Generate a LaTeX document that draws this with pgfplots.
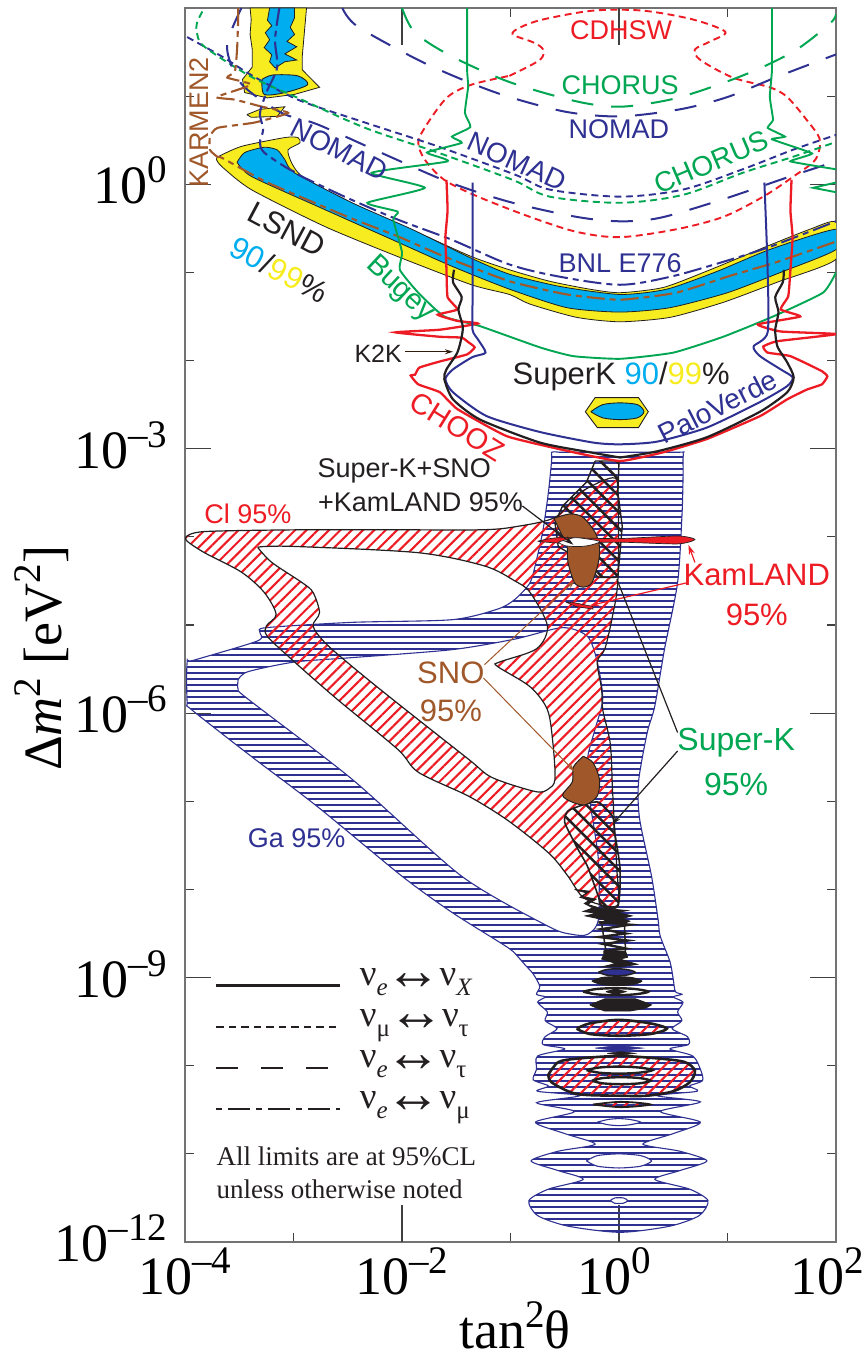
\documentclass[border=0pt]{standalone}
\usepackage{fontspec}
\usepackage{pgfplots}
\pgfplotsset{compat=1.18}
\usetikzlibrary{patterns.meta,arrows.meta}
\setmainfont{Liberation Serif}
\newfontfamily\hv{Liberation Sans}
\definecolor{cB}{HTML}{2E3192}
\definecolor{cR}{HTML}{ED1C24}
\definecolor{cG}{HTML}{00A651}
\definecolor{cC}{HTML}{00AEEF}
\definecolor{cY}{HTML}{F7EC1F}
\definecolor{cN}{HTML}{A0582A}
\definecolor{cK}{HTML}{231F20}
\newcommand{\fs}[1]{\fontsize{#1}{#1}\selectfont}
\newcommand{\up}[1]{\smash{\raisebox{21pt}{\fs{39}#1}}}
\newcommand{\tl}[1]{\fs{54}10\up{#1}}
\newcommand{\sbx}[1]{\smash{\raisebox{-10pt}{\fs{25}#1}}}
\newcommand{\lr}{\kern-2pt\smash{\raisebox{-4pt}{\fs{56}↔}}\kern-2pt}
\tikzset{
 ga/.style={pattern={Lines[angle=0,distance=6pt,line width=2.4pt]},pattern color=cB},
 ci/.style={pattern={Lines[angle=45,distance=8pt,line width=2.1pt]},pattern color=cR},
 sk/.style={pattern={Lines[angle=-45,distance=11.5pt,line width=2.5pt]},pattern color=cK},
 sd/.style={dash pattern=on 7pt off 4.5pt},
 ld/.style={dash pattern=on 22pt off 18pt},
 dd/.style={dash pattern=on 18pt off 5pt on 6pt off 5pt},
 lab/.style={font=\hv\fs{27}},
}
\begin{document}
\begin{tikzpicture}
\path[use as bounding box] (-185pt,-115pt) rectangle (681pt,1242pt);
\begin{axis}[
 scale only axis,width=651pt,height=1234pt,
 xmin=-4,xmax=2,ymin=-12,ymax=2,
 unbounded coords=jump,
 axis line style={draw=black!55,line width=1.6pt},
 tick style={draw=black!75,line width=1.1pt},
 tick align=inside,
 xtick={-4,-2,0,2},xticklabels={\tl{–4},\tl{–2},\tl{0}\hspace*{10pt},\tl{2}\hspace*{18pt}},
 minor xtick={-3,-1,1},
 ytick={-12,-9,-6,-3,0},yticklabels={\tl{–12},\tl{–9},\tl{–6},\tl{–3},\tl{0}},
 minor ytick={-11,-10,-8,-7,-5,-4,-2,-1,1},
 major tick length=26pt,minor tick length=9pt,
 extra x ticks={-2,0},extra x tick labels={},extra x tick style={major tick length=37pt},
 xticklabel style={yshift=-13pt},
 yticklabel style={xshift=-14pt,yshift=-2pt},
 xlabel={\fs{54}tan\up{2}θ},
 xlabel style={at={(axis description cs:.507,-.071)},anchor=center},
 ylabel={\fs{54}Δ\textit{m}\up{2} [eV\up{2}]},
 ylabel style={at={(axis description cs:-.213,.473)},anchor=center},
]
% ---------- Ga 95%
\addplot[ga,even odd rule,draw=cB,line width=1.1pt,smooth,tension=.45] coordinates {
(-.55,-3.04)(.52,-3.04)(.59,-3.04)(.59,-3.12)(.59,-3.35)(.58,-3.77)(.54,-4.52)(.42,-5.27)(.33,-5.92)(.26,-6.22)(.18,-6.78)(.19,-7.20)(.30,-7.85)(.36,-8.34)(.38,-8.53)(.47,-8.82)(.50,-9.02)(.52,-9.16)(.58,-9.19)(.50,-9.22)(.59,-9.28)(.54,-9.39)(.58,-9.49)(.49,-9.58)(.63,-9.67)(.64,-9.76)(.47,-9.81)(.68,-9.89)(.75,-10.04)(.77,-10.17)(.65,-10.23)(.72,-10.29)(.35,-10.34)(.75,-10.41)(.38,-10.52)(.75,-10.64)(.50,-10.77)(.22,-10.89)(.56,-10.97)(.81,-11.08)(.56,-11.19)(.33,-11.29)(.65,-11.40)(.82,-11.53)(.74,-11.70)(.47,-11.82)(.01,-11.89)(-.47,-11.82)(-.75,-11.70)(-.83,-11.53)(-.65,-11.40)(-.33,-11.29)(-.56,-11.19)(-.81,-11.08)(-.56,-10.97)(-.22,-10.89)(-.50,-10.77)(-.77,-10.64)(-.41,-10.52)(-.76,-10.42)(-.36,-10.34)(-.75,-10.29)(-.65,-10.23)(-.79,-10.16)(-.76,-10.04)(-.75,-9.89)(-.50,-9.81)(-.70,-9.76)(-.68,-9.67)(-.57,-9.58)(-.68,-9.49)(-.66,-9.39)(-.75,-9.28)(-.68,-9.22)(-.76,-9.19)(-.73,-9.10)(-.79,-8.96)(-.87,-8.85)(-.98,-8.70)(-1.10,-8.60)(-1.54,-8.26)(-2.00,-7.85)(-2.78,-7.06)(-3.39,-6.49)(-3.94,-5.96)(-3.98,-5.88)(-3.98,-5.42)(-3.92,-5.40)(-3.33,-5.18)(-3.31,-5.08)(-3.25,-5.03)(-2.46,-4.97)(-1.54,-4.94)(-1.12,-4.82)(-.96,-4.71)(-.82,-4.52)(-.76,-4.26)(-.70,-3.92)(-.65,-3.49)(-.62,-3.12)(-.62,-3.04)(-.55,-3.04)
(0,nan)
(-3.51,-5.62)(-3.42,-5.53)(-2.99,-5.42)(-2.46,-5.37)(-1.54,-5.28)(-.96,-5.16)(-.52,-5.03)(-.29,-5.13)(-.20,-5.42)(-.15,-5.84)(-.22,-6.18)(-.29,-6.52)(-.27,-6.98)(-.19,-7.66)(-.19,-8.34)(-.29,-8.51)(-.43,-8.51)(-.65,-8.42)(-1.45,-7.85)(-2.46,-6.75)(-3.42,-5.84)(-3.51,-5.73)(-3.51,-5.62)
(0,nan)
(-.30,-11.08)(-.2,-11.02)(0,-11.0)(.2,-11.02)(.30,-11.08)(.2,-11.14)(0,-11.16)(-.2,-11.14)(-.30,-11.08)
(0,nan)
(-.2,-10.64)(-.1,-10.61)(0,-10.60)(.1,-10.61)(.2,-10.64)(.1,-10.67)(0,-10.68)(-.1,-10.67)(-.2,-10.64)
(0,nan)
(-.08,-11.53)(-.04,-11.50)(.04,-11.50)(.08,-11.53)(.04,-11.56)(-.04,-11.56)(-.08,-11.53)
};
% ---------- Cl 95%
\addplot[ci,even odd rule,draw=cK,line width=1.2pt,smooth,tension=.5] coordinates {
(-3.99,-4.00)(-3.82,-3.94)(-2.94,-3.92)(-2.02,-3.92)(-1.28,-3.92)(-.98,-3.89)(-.59,-3.78)(-.36,-3.50)(-.06,-3.33)(-.01,-3.50)(-.01,-4.48)(-.06,-4.90)(-.13,-5.27)(-.20,-5.42)(-.16,-5.73)(-.15,-5.96)(-.08,-6.35)(-.06,-6.86)(-.04,-7.32)(-.02,-7.77)(-.01,-8.17)(-.18,-8.17)(-.34,-8.08)(-.47,-7.85)(-.62,-7.62)(-.84,-7.39)(-1.08,-7.17)(-1.39,-6.94)(-1.85,-6.67)(-2.04,-6.41)(-2.60,-5.84)(-2.99,-5.42)(-3.24,-5.13)(-3.25,-5.01)(-3.16,-4.88)(-3.27,-4.63)(-3.48,-4.40)(-3.82,-4.18)(-3.98,-4.05)(-3.99,-4.00)
(0,nan)
(-3.33,-4.12)(-3.27,-4.11)(-2.96,-4.11)(-1.85,-4.18)(-1.24,-4.33)(-.96,-4.50)(-.82,-4.63)(-.66,-5.01)(-.76,-5.27)(-1.10,-5.42)(-1.12,-5.47)(-.82,-5.70)(-.66,-5.96)(-.61,-6.33)(-.59,-6.75)(-.65,-6.86)(-.77,-6.89)(-1.17,-6.73)(-1.39,-6.52)(-2.09,-5.84)(-2.46,-5.47)(-2.71,-5.20)(-2.82,-5.01)(-2.76,-4.86)(-2.82,-4.63)(-2.92,-4.52)(-3.20,-4.29)(-3.33,-4.12)
};
% Cl lobes at low mass
\addplot[ci,draw=cK,line width=2.6pt,smooth] coordinates {(-.39,-9.58)(-.27,-9.52)(0,-9.48)(.29,-9.52)(.44,-9.58)(.29,-9.64)(0,-9.66)(-.27,-9.64)(-.39,-9.58)};
\addplot[ci,draw=cK,line width=2.6pt,smooth] coordinates {(-.65,-10.10)(-.56,-9.96)(-.39,-9.92)(0,-9.89)(.38,-9.92)(.61,-9.96)(.70,-10.06)(.65,-10.19)(.50,-10.29)(.26,-10.34)(0,-10.34)(-.39,-10.32)(-.62,-10.19)(-.65,-10.10)};
\addplot[fill=white,draw=cK,line width=2.4pt,smooth] coordinates {(-.25,-10.17)(-.15,-10.14)(.02,-10.13)(.19,-10.14)(.29,-10.17)(.19,-10.20)(.02,-10.21)(-.15,-10.20)(-.25,-10.17)};
\addplot[fill=white,draw=cK,line width=2.4pt,smooth] coordinates {(-.30,-10.05)(-.18,-10.02)(0,-10.01)(.18,-10.02)(.31,-10.05)(.18,-10.08)(0,-10.09)(-.18,-10.08)(-.30,-10.05)};
\addplot[ci,draw=cK,line width=1.8pt,smooth] coordinates {(-.24,-10.44)(-.1,-10.42)(.02,-10.41)(.17,-10.42)(.29,-10.44)(.17,-10.46)(.02,-10.47)(-.1,-10.46)(-.24,-10.44)};
% ---------- Super-K hatched regions
\addplot[sk,draw=cK,line width=1.4pt] coordinates {(-.22,-3.14)(0,-3.14)(-.01,-3.50)(.03,-3.88)(-.01,-4.45)(-.04,-4.46)(-.19,-4.46)(-.36,-4.26)(-.56,-4.11)(-.59,-3.84)(-.52,-3.65)(-.30,-3.38)(-.22,-3.14)};
\addplot[sk,draw=cK,line width=1.6pt,smooth,tension=.4] coordinates {(-.33,-7.04)(-.47,-7.11)(-.50,-7.24)(-.38,-7.54)(-.29,-7.74)(-.19,-8.08)(-.16,-8.19)(-.01,-8.19)(.01,-7.77)(-.04,-7.35)(-.06,-7.17)(-.19,-7.01)(-.33,-7.04)};
\addplot[fill=cK,draw=cK,line width=.8pt] coordinates {(-.41,-8.00)(-.27,-8.02)(-.34,-8.08)(-.21,-8.11)(-.29,-8.17)(-.18,-8.21)(.08,-8.24)(-.01,-8.26)(.12,-8.30)(.03,-8.33)(.10,-8.36)(.04,-8.39)(-.18,-8.39)(-.12,-8.35)(-.31,-8.30)(-.21,-8.27)(-.33,-8.25)(-.24,-8.21)(-.32,-8.16)(-.27,-8.12)(-.36,-8.09)(-.30,-8.04)(-.41,-8.00)};
\addplot[draw=cK,line width=2.4pt] coordinates {(-.19,-8.37)(.10,-8.40)(-.16,-8.45)(.06,-8.50)(-.18,-8.54)(.08,-8.58)(-.14,-8.62)(.06,-8.67)(-.14,-8.70)};
\addplot[draw=cK,line width=1.5pt] coordinates {(-.16,-8.39)(-.12,-8.70)};
\addplot[draw=cK,line width=1.5pt] coordinates {(.05,-8.39)(.06,-8.70)};
\addplot[fill=cK,draw=cK,line width=.8pt] coordinates {(-.14,-8.70)(.06,-8.70)(.08,-8.77)(.01,-8.79)(.17,-8.85)(.01,-8.88)(-.16,-8.88)(-.03,-8.84)(-.16,-8.79)(-.14,-8.74)(-.14,-8.70)};
\addplot[fill=cB,draw=cK,line width=1.5pt,smooth] coordinates {(-.19,-8.94)(-.12,-8.91)(-.02,-8.90)(.08,-8.91)(.15,-8.94)(.08,-8.97)(-.02,-8.98)(-.12,-8.97)(-.19,-8.94)};
\addplot[fill=cK,draw=cK,line width=1pt,smooth] coordinates {(-.25,-9.04)(-.16,-9.00)(-.02,-8.99)(.12,-9.00)(.21,-9.04)(.12,-9.08)(-.02,-9.09)(-.16,-9.08)(-.25,-9.04)};
\addplot[fill=white,draw=cK,line width=2.4pt,smooth] coordinates {(-.33,-9.16)(-.21,-9.13)(-.03,-9.12)(.15,-9.13)(.27,-9.16)(.15,-9.19)(-.03,-9.20)(-.21,-9.19)(-.33,-9.16)};
\addplot[fill=cK,draw=cK,line width=1pt] coordinates {(-.12,-9.16)(-.03,-9.13)(.06,-9.16)(-.03,-9.19)(-.12,-9.16)};
\addplot[fill=cK,draw=cK,line width=.8pt] coordinates {(-.27,-9.31)(-.19,-9.27)(-.13,-9.24)(.15,-9.24)(.24,-9.28)(.30,-9.31)(.24,-9.35)(.10,-9.38)(-.13,-9.38)(-.20,-9.35)(-.27,-9.31)};
\addplot[fill=cB,draw=cB,line width=.6pt] coordinates {(-.22,-9.80)(0,-9.77)(.22,-9.80)(0,-9.83)(-.22,-9.80)};
\addplot[fill=cK,draw=cK,line width=.6pt] coordinates {(-.11,-9.86)(.02,-9.84)(.15,-9.86)(.02,-9.88)(-.11,-9.86)};
% ---------- SNO, KamLAND
\addplot[fill=cN,draw=cK,line width=1pt,smooth] coordinates {(-.60,-3.79)(-.45,-3.74)(-.33,-3.78)(-.22,-3.95)(-.18,-4.11)(-.19,-4.29)(-.25,-4.52)(-.33,-4.57)(-.41,-4.52)(-.47,-4.29)(-.48,-4.09)(-.53,-3.97)(-.60,-3.79)};
\addplot[fill=cN,draw=cK,line width=1pt,smooth] coordinates {(-.33,-6.49)(-.24,-6.56)(-.18,-6.75)(-.20,-6.94)(-.31,-7.04)(-.43,-7.01)(-.52,-6.93)(-.43,-6.78)(-.42,-6.61)(-.33,-6.49)};
\addplot[fill=cR,draw=cK,line width=.7pt,smooth,tension=.4] coordinates {(-.75,-4.05)(-.56,-4.01)(-.01,-4.02)(.54,-3.99)(.70,-4.03)(.54,-4.08)(-.01,-4.06)(-.54,-4.07)(-.75,-4.05)};
\addplot[fill=white,draw=cK,line width=.7pt,smooth] coordinates {(-.56,-4.06)(-.45,-4.02)(-.38,-4.01)(-.18,-4.05)(-.25,-4.09)(-.36,-4.11)(-.50,-4.10)(-.56,-4.06)};
\addplot[fill=cR,draw=cK,line width=.6pt] coordinates {(-.49,-4.74)(-.40,-4.75)(-.24,-4.79)(-.24,-4.82)(-.40,-4.79)(-.49,-4.74)};
% ---------- LSND
\addplot[fill=cY,draw=cK,line width=.8pt,smooth,tension=.4] coordinates {(-3.70,.31)(-3.48,.43)(-3.08,.53)(-2.96,.53)(-2.94,.47)(-3.05,.39)(-3.02,.25)(-2.94,.11)(-2.71,-.06)(-2.28,-.32)(-1.85,-.55)(-1.36,-.82)(-1.01,-.97)(-.64,-1.10)(-.27,-1.19)(.01,-1.23)(.41,-1.17)(.84,-.97)(1.33,-.72)(1.76,-.51)(2.00,-.43)(2.00,-.85)(1.46,-1.11)(.96,-1.34)(.47,-1.51)(.01,-1.56)(-.39,-1.51)(-.82,-1.36)(-1.01,-1.25)(-1.36,-1.14)(-2.04,-.82)(-2.71,-.48)(-3.39,-.06)(-3.66,.20)(-3.71,.28)(-3.70,.31)};
\addplot[fill=cC,draw=cK,line width=.8pt,smooth,tension=.4] coordinates {(-3.52,.25)(-3.45,.36)(-3.27,.42)(-3.15,.39)(-3.08,.28)(-2.99,.13)(-2.46,-.21)(-1.91,-.51)(-1.36,-.84)(-1.01,-1.02)(-.54,-1.16)(.01,-1.25)(.44,-1.19)(.90,-.99)(1.39,-.74)(2.00,-.51)(2.00,-.74)(1.51,-.99)(1.00,-1.23)(.47,-1.40)(.01,-1.45)(-.48,-1.40)(-1.01,-1.19)(-1.54,-.93)(-2.16,-.59)(-2.78,-.25)(-3.39,.09)(-3.52,.25)};
\addplot[fill=cY,draw=cK,line width=.8pt] coordinates {(-3.40,2)(-3.39,1.87)(-3.40,1.70)(-3.38,1.53)(-3.38,1.33)(-3.47,1.19)(-3.45,1.04)(-3.24,.98)(-2.99,1.02)(-2.76,1.10)(-2.92,1.30)(-2.92,1.44)(-2.90,1.72)(-2.88,2)(-3.40,2)};
\addplot[fill=cY,draw=cK,line width=.8pt] coordinates {(-3.43,.79)(-3.31,.85)(-3.08,.88)(-3.15,.77)(-3.39,.76)(-3.43,.79)};
\addplot[fill=cC,draw=cK,line width=.8pt] coordinates {(-3.22,2)(-3.24,1.86)(-3.20,1.80)(-3.26,1.72)(-3.22,1.64)(-3.27,1.55)(-3.20,1.47)(-3.22,1.39)(-3.17,1.32)(-3.08,1.39)(-2.97,1.41)(-3.08,1.48)(-2.97,1.56)(-3.06,1.62)(-2.99,1.70)(-3.03,1.78)(-2.99,1.89)(-2.99,2)(-3.22,2)};
\addplot[fill=cC,draw=cK,line width=.9pt,smooth] coordinates {(-3.29,1.19)(-3.19,1.24)(-2.96,1.23)(-2.87,1.13)(-3.08,1.04)(-3.27,1.02)(-3.29,1.19)};
% SuperK 90/99 island
\addplot[fill=cY,draw=cK,line width=.9pt] coordinates {(-.31,-2.58)(-.22,-2.42)(.18,-2.42)(.27,-2.58)(.18,-2.76)(-.20,-2.76)(-.31,-2.58)};
\addplot[fill=cC,draw=cK,line width=.9pt,smooth] coordinates {(-.26,-2.58)(-.15,-2.50)(.01,-2.48)(.17,-2.50)(.23,-2.58)(.17,-2.65)(.01,-2.67)(-.15,-2.65)(-.26,-2.58)};
% ---------- exclusion lines
\addplot[cR,line width=1.9pt,sd,smooth] coordinates {(-1.01,1.23)(-.73,1.41)(-.70,1.53)(-.79,1.61)(-.98,1.70)(-.91,1.78)(-.70,1.87)(-.24,1.97)(.22,1.97)(.68,1.87)(.98,1.73)(.84,1.62)(.70,1.53)(.75,1.41)(1.05,1.21)(1.39,1.10)(1.55,.99)(1.73,.73)(1.85,.51)(1.81,.28)(1.61,.09)(1.33,-.14)(.96,-.37)(.53,-.51)(.01,-.60)(-.39,-.54)(-.82,-.37)(-1.30,-.14)(-1.61,.05)(-1.79,.28)(-1.85,.48)(-1.76,.70)(-1.58,.99)(-1.36,1.13)(-1.01,1.23)};
\addplot[cB,line width=1.9pt,sd,smooth] coordinates {(-3.98,1.67)(-3.66,1.45)(-3.39,1.24)(-2.96,.96)(-2.34,.70)(-1.67,.43)(-.96,.11)(-.64,-.06)(.01,-.14)(.59,-.06)(1.14,.17)(1.60,.39)(2,.56)};
\addplot[cG,line width=1.9pt,sd,smooth] coordinates {(-3.84,1.96)(-3.89,1.83)(-3.89,1.72)(-3.82,1.56)(-3.39,1.22)(-2.96,.98)(-2.34,.64)(-1.67,.36)(-.98,.05)(-.64,-.14)(.01,-.21)(.59,-.12)(1.14,.13)(1.60,.31)(2,.48)};
\addplot[cB,line width=2pt,ld,smooth] coordinates {(-3.48,2)(-3.61,1.61)(-3.57,1.34)(-3.45,1.10)(-3.11,.81)(-2.78,.68)(-2.16,.34)(-1.58,.03)(-1.01,-.20)(-.39,-.37)(.01,-.42)(.38,-.38)(.96,-.17)(1.58,.09)(2,.26)};
\addplot[cG,line width=2pt,ld,smooth] coordinates {(-2,2)(-1.88,1.72)(-1.54,1.45)(-1.01,1.16)(-.39,.94)(.01,.88)(.47,.96)(.87,1.11)(1.27,1.30)(1.64,1.53)(1.95,1.83)(2,1.93)};
\addplot[cB,line width=2pt,ld,smooth] coordinates {(-2.55,2)(-2.41,1.79)(-1.85,1.41)(-1.39,1.16)(-1.01,.99)(-.48,.82)(.01,.77)(.56,.85)(1.00,.99)(1.46,1.22)(1.95,1.45)(2,1.47)};
\addplot[cB,line width=2pt,dd,smooth] coordinates {(-2.96,.11)(-2.53,-.14)(-2.04,-.40)(-1.54,-.63)(-1.01,-.91)(-.54,-1.05)(.01,-1.14)(.47,-1.05)(.96,-.88)(1.39,-.71)(2,-.42)};
\addplot[cN,line width=2.1pt,dd,smooth,tension=.3] coordinates {(-3.51,2)(-3.51,1.87)(-3.52,1.53)(-3.54,1.28)(-3.61,1.21)(-3.39,1.13)(-3.71,.99)(-3.54,.96)(-3.29,.88)(-3.05,.81)(-3.36,.70)(-3.70,.64)(-3.77,.54)(-3.77,.39)(-3.70,.31)(-3.66,.30)(-3.24,.02)(-2.50,-.37)(-2.04,-.59)(-1.61,-.82)(-1.01,-1.10)(-.48,-1.25)(.01,-1.31)(.53,-1.23)(1.02,-1.04)(1.46,-.88)(2,-.65)};
\addplot[cB,line width=2.1pt,dd,smooth] coordinates {(-3.13,2)(-3.17,1.64)(-3.15,1.33)(-3.24,1.07)(-3.29,.90)(-3.31,.79)(-3.28,.62)(-3.31,.47)(-3.27,.36)(-3.08,.20)(-2.99,.14)};
% Bugey
\addplot[cG,line width=1.9pt,smooth,tension=.3] coordinates {(-1.40,2)(-1.40,1.30)(-1.39,1.11)(-1.42,.81)(-1.37,.65)(-1.54,.54)(-1.45,.47)(-1.77,.36)(-1.58,.26)(-2.28,.13)(-1.79,-.04)(-2.32,-.21)(-2.04,-.31)(-2.08,-.40)(-2.00,-.77)(-2.02,-.97)(-1.85,-1.23)(-1.61,-1.50)(-1.28,-1.61)(-.73,-1.85)(-.42,-1.95)(.01,-1.98)(.50,-1.91)(.96,-1.73)(1.42,-1.50)(1.88,-1.23)(2.00,-1.00)};
\addplot[cG,line width=1.9pt,smooth,tension=.2] coordinates {(1.41,2)(1.41,1.30)(1.39,.99)(1.42,.73)(1.37,.64)(1.53,.54)(1.41,.51)(1.78,.35)(1.58,.26)(2,.17)};
\addplot[cG,line width=1.9pt] coordinates {(2,.02)(1.79,-.04)(2,-.09)};
% CHOOZ
\addplot[cR,line width=2.3pt,smooth,tension=.25] coordinates {(-1.59,.05)(-1.58,-.30)(-1.60,-.60)(-1.59,-.97)(-1.58,-1.28)(-1.49,-1.42)(-1.67,-1.48)(-1.49,-1.55)(-1.30,-1.58)(-1.65,-1.65)(-2.06,-1.68)(-1.65,-1.73)(-1.45,-1.74)(-1.39,-1.79)(-1.33,-1.85)(-1.40,-1.93)(-1.65,-2.01)(-1.84,-2.08)(-1.88,-2.16)(-1.92,-2.17)(-1.85,-2.27)(-1.65,-2.36)(-1.49,-2.55)(-1.03,-2.86)(-.42,-3.04)(.01,-3.14)(.41,-3.04)(.81,-2.89)(1.30,-2.63)(1.55,-2.44)(1.73,-2.33)(1.87,-2.27)(1.92,-2.18)(1.87,-2.12)(1.58,-1.95)(1.37,-1.91)(1.33,-1.84)(1.46,-1.78)(2.00,-1.70)(1.49,-1.67)(1.28,-1.59)(1.67,-1.50)(1.49,-1.42)(1.56,-1.27)(1.58,-.97)(1.60,-.60)(1.58,-.30)(1.59,.05)};
% Palo Verde
\addplot[cB,line width=2pt,smooth,tension=.4] coordinates {(-1.35,.02)(-1.35,-1.31)(-1.35,-1.65)(-1.30,-1.76)(-1.23,-1.91)(-1.35,-1.96)(-1.53,-2.10)(-1.60,-2.21)(-1.53,-2.36)(-1.22,-2.63)(-.73,-2.81)(-.24,-2.93)(.01,-2.95)(.35,-2.92)(.81,-2.76)(1.30,-2.47)(1.55,-2.29)(1.60,-2.19)(1.49,-2.10)(1.30,-1.95)(1.24,-1.84)(1.37,-1.68)(1.37,-.97)(1.34,.02)};
% K2K
\addplot[cK,line width=2.2pt,smooth,tension=.4] coordinates {(-1.52,-.97)(-1.53,-1.11)(-1.45,-1.28)(-1.48,-1.42)(-1.44,-1.61)(-1.45,-1.73)(-1.49,-1.91)(-1.59,-2.10)(-1.61,-2.21)(-1.53,-2.44)(-1.28,-2.67)(-.73,-2.93)(-.27,-3.04)(.01,-3.10)};
\addplot[cK,line width=2.2pt,smooth,tension=.4] coordinates {(.01,-3.10)(.35,-3.03)(.81,-2.87)(1.30,-2.58)(1.55,-2.36)(1.61,-2.19)(1.55,-2.02)(1.46,-1.84)(1.44,-1.65)(1.47,-1.45)(1.44,-1.28)(1.51,-1.11)(1.52,-.97)};
% ---------- legend key lines
\addplot[cK,line width=2.2pt] coordinates {(-3.71,-9.09)(-2.57,-9.09)};
\addplot[cK,line width=1.8pt,dash pattern=on 7.5pt off 5pt] coordinates {(-3.71,-9.56)(-2.57,-9.56)};
\addplot[cK,line width=2.2pt,dash pattern=on 22pt off 23pt] coordinates {(-3.71,-10.03)(-2.62,-10.03)};
\addplot[cK,line width=2.2pt,dash pattern=on 6pt off 6pt on 22pt off 6pt] coordinates {(-3.71,-10.49)(-2.57,-10.49)};
% ---------- annotation leaders
\draw[cK,line width=1.2pt,-{Stealth[length=10pt,width=6pt]}] (axis cs:-.89,-3.65)--(axis cs:-.42,-4.09);
\draw[cR,line width=1.2pt,-{Stealth[length=10pt,width=6pt]}] (axis cs:.70,-4.29)--(axis cs:.64,-4.09);
\draw[cR,line width=1.2pt,-{Stealth[length=10pt,width=6pt]}] (axis cs:.63,-4.52)--(axis cs:-.27,-4.78);
\draw[cN,line width=1pt,-{Stealth[length=8pt,width=5pt]}] (axis cs:-1.24,-5.45)--(axis cs:-.41,-4.50);
\draw[cN,line width=1pt,-{Stealth[length=8pt,width=5pt]}] (axis cs:-1.25,-5.60)--(axis cs:-.41,-6.66);
\draw[cK,line width=1.2pt] (axis cs:.54,-6.22)--(axis cs:-.02,-4.48);
\draw[cK,line width=1.2pt,-{Stealth[length=9pt,width=5pt]}] (axis cs:.54,-6.43)--(axis cs:-.06,-7.26);
\draw[black!70!cN,line width=1.2pt,-{Stealth[length=8pt,width=5pt]}] (axis cs:-1.97,-1.90)--(axis cs:-1.53,-1.90);
% ---------- labels
\node[lab,text=cR] at (axis cs:.02,1.75) {CDHSW};
\node[lab,text=cG] at (axis cs:.01,1.12) {CHORUS};
\node[lab,text=cB] at (axis cs:0,.62) {NOMAD};
\node[lab,text=cB,rotate=-27,font=\hv\fs{28}] at (axis cs:-2.58,.39) {NOMAD};
\node[lab,text=cB,rotate=-24,font=\hv\fs{28}] at (axis cs:-.94,.26) {NOMAD};
\node[lab,text=cG,rotate=23,font=\hv\fs{28}] at (axis cs:.85,.25) {CHORUS};
\node[lab,text=cB] at (axis cs:.01,-.90) {BNL E776};
\node[lab,text=cN,rotate=90] at (axis cs:-3.87,.70) {KARMEN2};
\node[lab,text=cK,rotate=-28,font=\hv\fs{31}] at (axis cs:-3.06,-.51) {LSND};
\node[lab,text=cK,rotate=-28,font=\hv\fs{31}] at (axis cs:-3.13,-.97) {\textcolor{cC}{90}/\textcolor{cY}{99}\%};
\node[lab,text=cG,rotate=-43,font=\hv\fs{29}] at (axis cs:-2.02,-1.19) {Bugey};
\node[lab,text=cK,font=\hv\fs{25}] at (axis cs:-2.22,-1.92) {K2K};
\node[lab,text=cK,font=\hv\fs{31}] at (axis cs:.02,-2.18) {SuperK \textcolor{cC}{90}/\textcolor{cY}{99}\%};
\node[lab,text=cR,rotate=-32,font=\hv\fs{29}] at (axis cs:-1.49,-2.75) {CHOOZ};
\node[lab,text=cB,rotate=27,font=\hv\fs{28}] at (axis cs:.91,-2.52) {PaloVerde};
\node[lab,text=cK] at (axis cs:-1.98,-3.25) {Super-K+SNO};
\node[lab,text=cK] at (axis cs:-1.83,-3.61) {+KamLAND 95\%};
\node[lab,text=cR] at (axis cs:-3.42,-3.74) {Cl 95\%};
\node[lab,text=cR,font=\hv\fs{31}] at (axis cs:1.27,-4.43) {KamLAND};
\node[lab,text=cR,font=\hv\fs{31}] at (axis cs:1.27,-4.89) {95\%};
\node[lab,text=cN,font=\hv\fs{31}] at (axis cs:-1.55,-5.54) {SNO};
\node[lab,text=cN,font=\hv\fs{31}] at (axis cs:-1.55,-5.97) {95\%};
\node[lab,text=cG,font=\hv\fs{32}] at (axis cs:1.08,-6.33) {Super-K};
\node[lab,text=cG,font=\hv\fs{32}] at (axis cs:1.08,-6.81) {95\%};
\node[lab,text=cB] at (axis cs:-2.97,-7.42) {Ga 95\%};
% legend text
\node[anchor=base west,inner sep=0pt,text=cK] at (axis cs:-2.39,-9.09) {\fs{37}ν\sbx{\textit{e}}\lr ν\sbx{\textit{X}}};
\node[anchor=base west,inner sep=0pt,text=cK] at (axis cs:-2.39,-9.55) {\fs{37}ν\sbx{μ}\lr ν\sbx{τ}};
\node[anchor=base west,inner sep=0pt,text=cK] at (axis cs:-2.39,-10.02) {\fs{37}ν\sbx{\textit{e}}\lr ν\sbx{τ}};
\node[anchor=base west,inner sep=0pt,text=cK] at (axis cs:-2.39,-10.49) {\fs{37}ν\sbx{\textit{e}}\lr ν\sbx{μ}};
\node[anchor=base west,inner sep=0pt,text=cK] at (axis cs:-3.71,-11.13) {\fs{27}All limits are at 95\%CL};
\node[anchor=base west,inner sep=0pt,text=cK] at (axis cs:-3.71,-11.51) {\fs{27}unless otherwise noted};
\end{axis}
\end{tikzpicture}
\end{document}
